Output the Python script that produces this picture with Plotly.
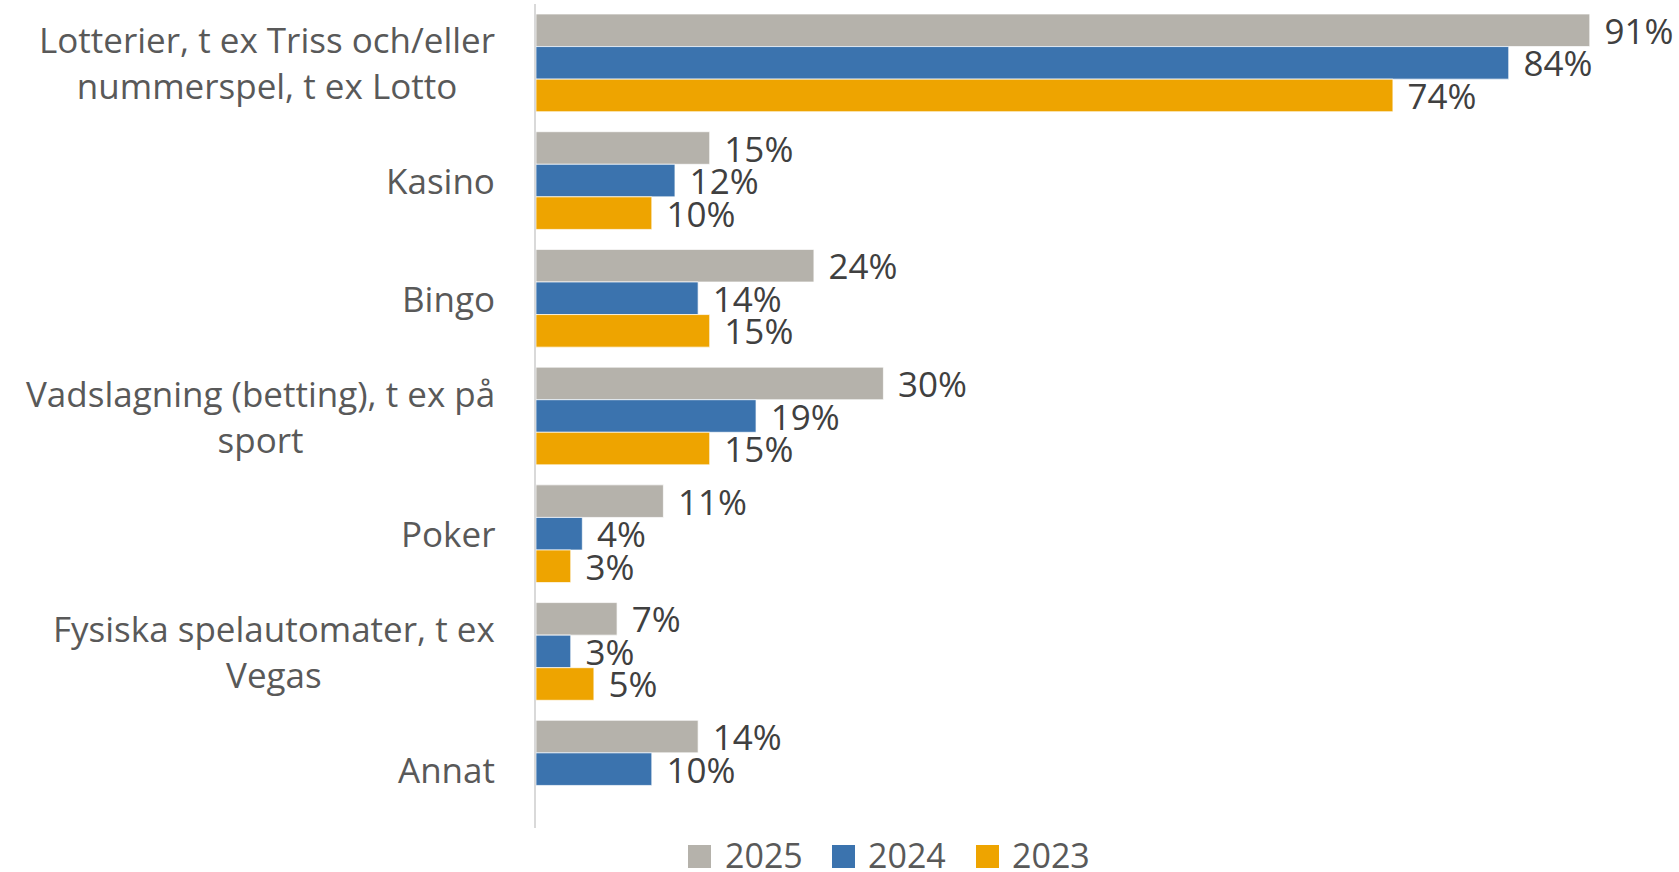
import plotly.graph_objects as go

categories = [
    "Lotterier, t ex Triss och/eller<br>nummerspel, t ex Lotto",
    "Kasino",
    "Bingo",
    "Vadslagning (betting), t ex på<br>sport",
    "Poker",
    "Fysiska spelautomater, t ex<br>Vegas",
    "Annat",
]
years = ["2025", "2024", "2023"]
values_2025 = [91, 15, 24, 30, 11, 7, 14]
values_2024 = [84, 12, 14, 19, 4, 3, 10]
values_2023 = [74, 10, 15, 15, 3, 5, None]
series = [values_2025, values_2024, values_2023]
colors = ["#B5B2AB", "#3B73AE", "#EEA400"]

W, H = 1679, 872
PL, PR, PT, PB = 536, 1671, 4, 828  # plot area in pixels
XMAX = (PR - PL) / 11.58

def px_x(p):
    return (p - PL) / (PR - PL)

def px_y(p):
    return (PB - p) / (PB - PT)

FONT = "Open Sans"
fig = go.Figure()
for name, vals, col in zip(years, series, colors):
    fig.add_trace(go.Bar(
        y=categories, x=vals, name=name, orientation="h",
        marker=dict(color=col, line=dict(color="rgba(255,255,255,0.7)", width=1)),
        texttemplate="\u2004%{x}%", textposition="outside",
        textfont=dict(family=FONT, size=35, color="#404040"),
        constraintext="none", cliponaxis=False, showlegend=False,
    ))

annotations = []
for c in categories:
    annotations.append(dict(
        x=px_x(497), xref="paper", y=c, yref="y", xanchor="right", yanchor="middle",
        text=c, align="center", showarrow=False,
        font=dict(family=FONT, size=35, color="#595959"),
    ))

shapes = []
leg_sq = [688, 832, 976]
leg_tx = [723, 866, 1010]
for name, col, sx, tx in zip(years, colors, leg_sq, leg_tx):
    shapes.append(dict(type="rect", xref="paper", yref="paper",
                       x0=px_x(sx), x1=px_x(sx + 23), y0=px_y(868), y1=px_y(845),
                       fillcolor=col, line=dict(width=0)))
    annotations.append(dict(x=px_x(tx), xref="paper", y=px_y(855), yref="paper",
                            xanchor="left", yanchor="middle", text=name, showarrow=False,
                            font=dict(family=FONT, size=34, color="#595959")))

fig.update_layout(
    width=W, height=H,
    margin=dict(l=PL, r=W - PR, t=PT, b=H - PB, pad=0),
    paper_bgcolor="white", plot_bgcolor="white",
    barmode="group", bargap=0.17, bargroupgap=0,
    showlegend=False,
    xaxis=dict(range=[0, XMAX], showgrid=False, zeroline=False, showticklabels=False,
               ticks="", showline=False, fixedrange=True),
    yaxis=dict(autorange="reversed", showticklabels=False, ticks="", showgrid=False,
               showline=True, linecolor="#D9D9D9", linewidth=2, zeroline=False),
    annotations=annotations, shapes=shapes,
)

fig.write_html("out.html", config={"displayModeBar": False},
               post_script="document.body.style.margin='0px';")
